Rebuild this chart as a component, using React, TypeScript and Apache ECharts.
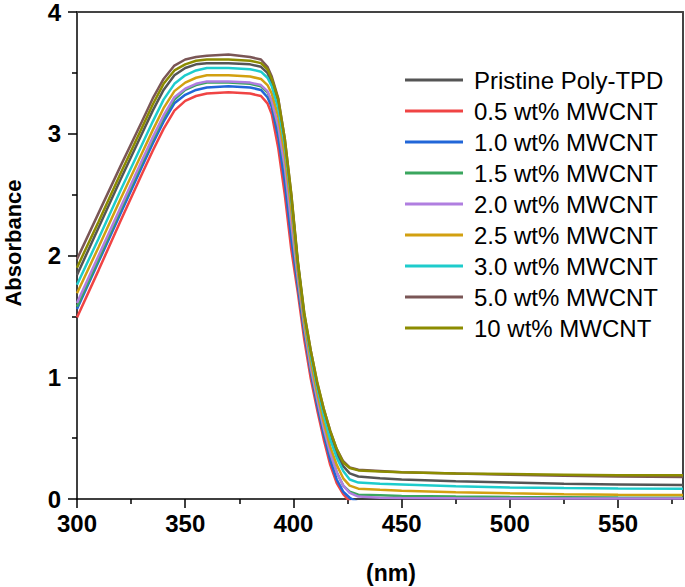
import React, { useEffect, useRef } from "react";
import * as echarts from "echarts";

const wavelengths = [300, 310, 320, 330, 335, 340, 345, 350, 355, 360, 370, 380, 385, 388, 390, 393, 396, 399, 402, 405, 408, 411, 414, 417, 420, 423, 426, 430, 440, 450, 475, 500, 525, 550, 580];

const seriesNames = [
  "Pristine Poly-TPD",
  "0.5 wt% MWCNT",
  "1.0 wt% MWCNT",
  "1.5 wt% MWCNT",
  "2.0 wt% MWCNT",
  "2.5 wt% MWCNT",
  "3.0 wt% MWCNT",
  "5.0 wt% MWCNT",
  "10 wt% MWCNT",
];

const seriesColors = ["#555555", "#f04444", "#2166d8", "#3aa65e", "#b07ee0", "#d2a010", "#1ecccc", "#7a5656", "#8c8c00"];

const pristine = [1.84, 2.23, 2.62, 3.00, 3.19, 3.36, 3.48, 3.54, 3.57, 3.58, 3.58, 3.57, 3.55, 3.50, 3.42, 3.24, 2.92, 2.47, 1.93, 1.49, 1.18, 0.92, 0.70, 0.51, 0.37, 0.27, 0.21, 0.185, 0.17, 0.16, 0.145, 0.135, 0.125, 0.12, 0.115];
const wt05 = [1.49, 1.88, 2.28, 2.67, 2.86, 3.04, 3.19, 3.27, 3.31, 3.33, 3.34, 3.33, 3.31, 3.25, 3.16, 2.88, 2.50, 2.05, 1.70, 1.31, 0.99, 0.73, 0.49, 0.28, 0.13, 0.04, -0.02, -0.05, -0.06, -0.06, -0.06, -0.06, -0.06, -0.06, -0.06];
const wt10 = [1.56, 1.95, 2.34, 2.73, 2.92, 3.10, 3.25, 3.32, 3.36, 3.38, 3.39, 3.38, 3.36, 3.30, 3.22, 2.97, 2.60, 2.14, 1.75, 1.37, 1.04, 0.77, 0.53, 0.32, 0.16, 0.06, 0.01, -0.03, -0.04, -0.04, -0.04, -0.04, -0.04, -0.04, -0.04];
const wt15 = [1.58, 1.97, 2.37, 2.76, 2.95, 3.13, 3.28, 3.36, 3.40, 3.42, 3.42, 3.41, 3.39, 3.34, 3.26, 3.04, 2.71, 2.25, 1.80, 1.41, 1.07, 0.81, 0.57, 0.37, 0.22, 0.11, 0.06, 0.035, 0.03, 0.025, 0.02, 0.017, 0.015, 0.012, 0.011];
const wt20 = [1.61, 2.00, 2.39, 2.78, 2.97, 3.15, 3.30, 3.37, 3.41, 3.43, 3.43, 3.42, 3.40, 3.35, 3.27, 3.06, 2.73, 2.27, 1.82, 1.42, 1.08, 0.82, 0.58, 0.38, 0.22, 0.11, 0.05, 0.02, 0.01, 0.008, 0.006, 0.005, 0.005, 0.005, 0.005];
const wt25 = [1.69, 2.07, 2.46, 2.84, 3.03, 3.21, 3.35, 3.42, 3.46, 3.48, 3.48, 3.47, 3.45, 3.40, 3.33, 3.14, 2.83, 2.38, 1.88, 1.46, 1.13, 0.87, 0.63, 0.43, 0.28, 0.17, 0.11, 0.085, 0.075, 0.068, 0.055, 0.047, 0.04, 0.035, 0.033];
const wt30 = [1.76, 2.14, 2.53, 2.91, 3.10, 3.28, 3.41, 3.48, 3.52, 3.54, 3.54, 3.53, 3.51, 3.46, 3.39, 3.21, 2.91, 2.47, 1.94, 1.51, 1.18, 0.92, 0.69, 0.49, 0.34, 0.23, 0.16, 0.135, 0.125, 0.12, 0.105, 0.095, 0.09, 0.087, 0.085];
const wt50 = [1.97, 2.35, 2.73, 3.10, 3.29, 3.45, 3.56, 3.61, 3.63, 3.64, 3.65, 3.63, 3.61, 3.55, 3.47, 3.29, 2.96, 2.50, 1.95, 1.52, 1.22, 0.95, 0.74, 0.56, 0.41, 0.31, 0.26, 0.24, 0.23, 0.22, 0.21, 0.20, 0.19, 0.185, 0.18];
const wt100 = [1.90, 2.28, 2.67, 3.05, 3.24, 3.41, 3.52, 3.57, 3.60, 3.61, 3.61, 3.60, 3.58, 3.53, 3.45, 3.28, 2.96, 2.51, 1.96, 1.53, 1.22, 0.96, 0.74, 0.56, 0.41, 0.30, 0.255, 0.235, 0.225, 0.22, 0.21, 0.205, 0.20, 0.195, 0.195];

const seriesValues = [pristine, wt05, wt10, wt15, wt20, wt25, wt30, wt50, wt100];

const xMajorTicks = [300, 350, 400, 450, 500, 550];
const xMinorTicks = [325, 375, 425, 475, 525, 575];

const FONT = "'Liberation Sans', Arial, Helvetica, sans-serif";

export default function App() {
  const ref = useRef<HTMLDivElement>(null);

  useEffect(() => {
    document.body.style.margin = "0";
    const chart = echarts.init(ref.current!, null, { renderer: "svg" });
    const axisBlack = { color: "#000", width: 1.5 };
    chart.setOption({
      animation: false,
      backgroundColor: "#fff",
      grid: { left: 77, right: 2, top: 10, bottom: 88, containLabel: false },
      legend: {
        orient: "vertical",
        left: 400,
        top: 63,
        itemWidth: 58,
        itemHeight: 3,
        itemGap: 7,
        icon: "rect",
        data: seriesNames.map((n, i) => ({ name: n, itemStyle: { color: seriesColors[i] } })),
        textStyle: { fontSize: 24, fontFamily: FONT, color: "#000", padding: [0, 0, 0, 6], lineHeight: 24 },
      },
      xAxis: [
        {
          type: "value",
          min: 300,
          max: 580,
          interval: 50,
          position: "bottom",
          axisLine: { show: true, onZero: false, lineStyle: axisBlack },
          axisTick: { show: true, inside: false, length: 9, lineStyle: axisBlack, customValues: xMajorTicks },
          axisLabel: {
            customValues: xMajorTicks,
            fontSize: 24,
            fontWeight: "bold",
            fontFamily: FONT,
            color: "#000",
            margin: 12,
          },
          splitLine: { show: false },
        },
        {
          type: "value",
          min: 300,
          max: 580,
          position: "bottom",
          axisLine: { show: false, onZero: false },
          axisTick: { show: true, inside: false, length: 5, lineStyle: axisBlack, customValues: xMinorTicks },
          axisLabel: { show: false },
          splitLine: { show: false },
        },
        {
          type: "value",
          min: 300,
          max: 580,
          position: "top",
          axisLine: { show: true, onZero: false, lineStyle: { color: "#444", width: 2 } },
          axisTick: { show: false },
          axisLabel: { show: false },
          splitLine: { show: false },
        },
      ],
      yAxis: [
        {
          type: "value",
          min: 0,
          max: 4,
          interval: 1,
          axisLine: { show: true, onZero: false, lineStyle: axisBlack },
          axisTick: { show: true, inside: false, length: 9, lineStyle: axisBlack },
          minorTick: { show: true, splitNumber: 2, length: 5, lineStyle: axisBlack },
          axisLabel: { fontSize: 24, fontWeight: "bold", fontFamily: FONT, color: "#000", margin: 16 },
          splitLine: { show: false },
          minorSplitLine: { show: false },
        },
        {
          type: "value",
          min: 0,
          max: 4,
          position: "right",
          axisLine: { show: true, onZero: false, lineStyle: { color: "#444", width: 2 } },
          axisTick: { show: false },
          axisLabel: { show: false },
          splitLine: { show: false },
        },
      ],
      graphic: [
        {
          type: "text",
          x: 13,
          y: 243,
          rotation: Math.PI / 2,
          style: {
            text: "Absorbance",
            font: `bold 22px ${FONT}`,
            fill: "#000",
            align: "center",
            verticalAlign: "middle",
          },
        },
        {
          type: "text",
          x: 391,
          y: 573,
          style: {
            text: "(nm)",
            font: `bold 23px ${FONT}`,
            fill: "#000",
            align: "center",
            verticalAlign: "middle",
          },
        },
      ],
      series: seriesNames.map((name, i) => ({
        name,
        type: "line",
        xAxisIndex: 0,
        yAxisIndex: 0,
        symbol: "none",
        clip: true,
        color: seriesColors[i],
        lineStyle: { width: 2.5, color: seriesColors[i] },
        data: wavelengths.map((w, j) => [w, seriesValues[i][j]]),
      })),
    });
    return () => chart.dispose();
  }, []);

  return <div ref={ref} style={{ width: 685, height: 587 }} />;
}
